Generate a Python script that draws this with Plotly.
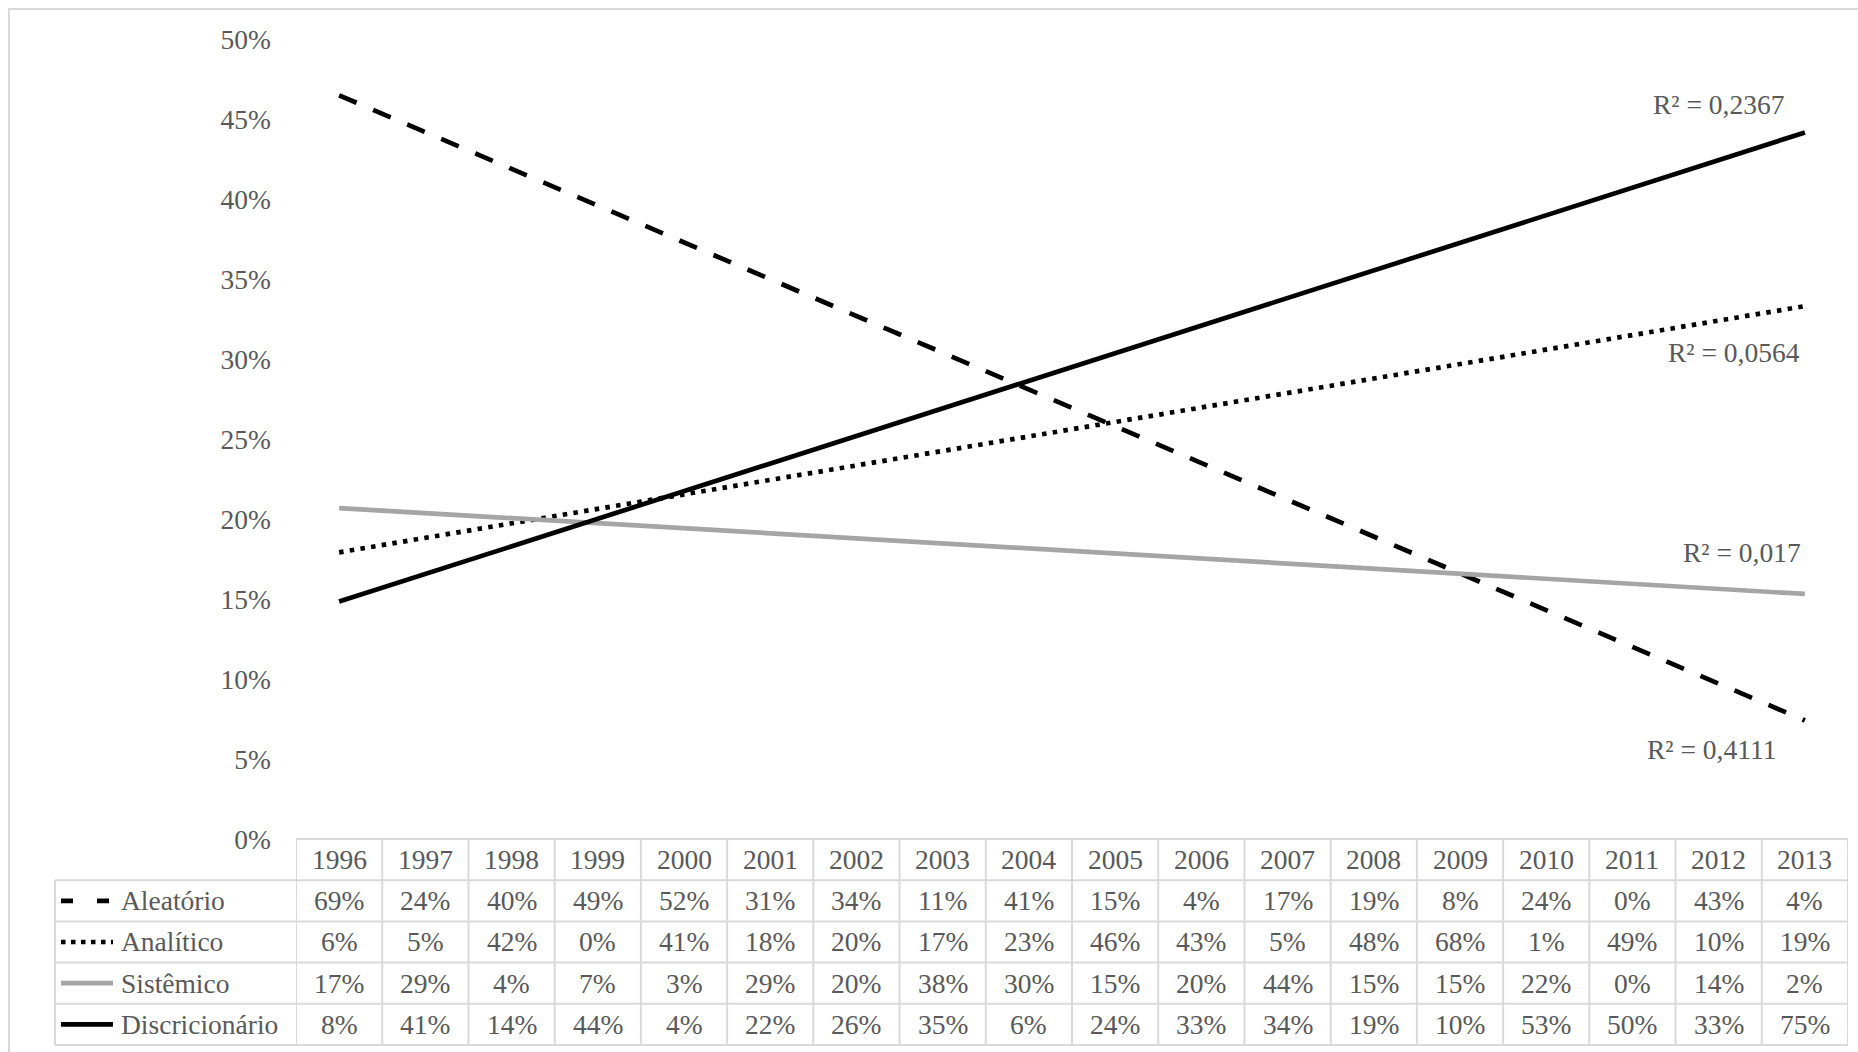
import numpy as np
import plotly.graph_objects as go

# ---------------- data ----------------
years = ["1996", "1997", "1998", "1999", "2000", "2001", "2002", "2003", "2004",
         "2005", "2006", "2007", "2008", "2009", "2010", "2011", "2012", "2013"]
series_names = ["Aleatório", "Analítico", "Sistêmico", "Discricionário"]
aleatorio = [69, 24, 40, 49, 52, 31, 34, 11, 41, 15, 4, 17, 19, 8, 24, 0, 43, 4]
analitico = [6, 5, 42, 0, 41, 18, 20, 17, 23, 46, 43, 5, 48, 68, 1, 49, 10, 19]
sistemico = [17, 29, 4, 7, 3, 29, 20, 38, 30, 15, 20, 44, 15, 15, 22, 0, 14, 2]
discricionario = [8, 41, 14, 44, 4, 22, 26, 35, 6, 24, 33, 34, 19, 10, 53, 50, 33, 75]
r2_labels = ["R² = 0,4111", "R² = 0,0564", "R² = 0,017", "R² = 0,2367"]
y_ticks = [0, 0.05, 0.10, 0.15, 0.20, 0.25, 0.30, 0.35, 0.40, 0.45, 0.50]

series_values = [aleatorio, analitico, sistemico, discricionario]

# ---------------- styles / layout geometry ----------------
W, H = 1858, 1052
L, R, T, B = 296, 1848, 39, 839
TEXT = "#595959"
GRID = "#D9D9D9"
FONT = "Liberation Serif, Times New Roman, serif"
FS = 27.5
LW = 4.7
styles = [
    dict(color="black", dash="19px,18px"),
    dict(color="black", dash="4.5px,6.3px"),
    dict(color="#A5A5A5", dash="solid"),
    dict(color="black", dash="solid"),
]
key_dash = ["12px,24px", "4.5px,5.5px", "solid", "solid"]
r2_pos = [(15.92, 0.056), (16.18, 0.304), (16.27, 0.179), (16.0, 0.459)]


def px_x(px):
    return (px - L) / (R - L)


def px_y(py):
    return (B - py) / (B - T)


xs = np.arange(len(years))
fig = go.Figure()

# trend lines (linear least squares of each series, as in the source chart)
for name, vals, st in zip(series_names, series_values, styles):
    y = np.array(vals) / 100.0
    slope, icpt = np.polyfit(xs, y, 1)
    fig.add_trace(go.Scatter(
        x=xs, y=slope * xs + icpt, mode="lines", name=name,
        line=dict(color=st["color"], width=LW, dash=st["dash"]),
        showlegend=False, hoverinfo="skip"))

annotations = []
shapes = []

# R² labels
for txt, (ax, ay) in zip(r2_labels, r2_pos):
    annotations.append(dict(x=ax, y=ay, xref="x", yref="y", text=txt,
                            showarrow=False, font=dict(family=FONT, size=FS, color=TEXT),
                            xanchor="center", yanchor="middle"))

# data table geometry
table_top = B
table_bottom = 1045
n_rows = 5
row_h = (table_bottom - table_top) / n_rows
row_lines = [table_top + k * row_h for k in range(n_rows + 1)]
row_centers = [table_top + (k + 0.5) * row_h for k in range(n_rows)]
label_left = 55

# horizontal lines
shapes.append(dict(type="line", xref="paper", yref="paper",
                   x0=px_x(L), x1=px_x(R), y0=px_y(row_lines[0]), y1=px_y(row_lines[0]),
                   line=dict(color=GRID, width=2)))
for yl in row_lines[1:]:
    shapes.append(dict(type="line", xref="paper", yref="paper",
                       x0=px_x(label_left), x1=px_x(R), y0=px_y(yl), y1=px_y(yl),
                       line=dict(color=GRID, width=2)))
# vertical lines
for i in range(len(years) + 1):
    shapes.append(dict(type="line", xref="x", yref="paper",
                       x0=i - 0.5, x1=i - 0.5, y0=px_y(row_lines[0]), y1=px_y(table_bottom),
                       line=dict(color=GRID, width=2)))
shapes.append(dict(type="line", xref="paper", yref="paper",
                   x0=px_x(label_left), x1=px_x(label_left),
                   y0=px_y(row_lines[1]), y1=px_y(table_bottom),
                   line=dict(color=GRID, width=2)))

# outer chart border
shapes.append(dict(type="rect", xref="paper", yref="paper",
                   x0=px_x(9), x1=px_x(W + 20), y0=px_y(9), y1=px_y(H + 20),
                   line=dict(color=GRID, width=2), fillcolor="rgba(0,0,0,0)", layer="below"))

# header
for i, yr in enumerate(years):
    annotations.append(dict(x=i, y=px_y(row_centers[0]), xref="x", yref="paper", text=yr,
                            showarrow=False, font=dict(family=FONT, size=FS, color=TEXT),
                            xanchor="center", yanchor="middle"))
# rows
for r, (name, vals, st, kd) in enumerate(zip(series_names, series_values, styles, key_dash)):
    yc = row_centers[r + 1]
    for i, v in enumerate(vals):
        annotations.append(dict(x=i, y=px_y(yc), xref="x", yref="paper", text=f"{v}%",
                                showarrow=False, font=dict(family=FONT, size=FS, color=TEXT),
                                xanchor="center", yanchor="middle"))
    annotations.append(dict(x=px_x(119), y=px_y(yc), xref="paper", yref="paper", text=name,
                            showarrow=False, font=dict(family=FONT, size=FS, color=TEXT),
                            xanchor="left", yanchor="middle"))
    shapes.append(dict(type="line", xref="paper", yref="paper",
                       x0=px_x(61), x1=px_x(113), y0=px_y(yc), y1=px_y(yc),
                       line=dict(color=st["color"], width=LW, dash=kd)))

fig.update_layout(
    width=W, height=H,
    margin=dict(l=L, r=W - R, t=T, b=H - B, pad=0),
    paper_bgcolor="white", plot_bgcolor="white",
    showlegend=False,
    xaxis=dict(range=[-0.5, len(years) - 0.5], showticklabels=False, showgrid=False,
               zeroline=False, showline=False, ticks="", fixedrange=True),
    yaxis=dict(range=[0, 0.5], tickvals=y_ticks, tickformat=".0%", showgrid=False,
               zeroline=False, showline=False, ticks="", ticklabelstandoff=24,
               tickfont=dict(family=FONT, size=FS, color=TEXT), fixedrange=True),
    annotations=annotations,
    shapes=shapes,
)

fig.write_html("out.html", config=dict(displayModeBar=False),
               post_script="document.body.style.margin='0';")
